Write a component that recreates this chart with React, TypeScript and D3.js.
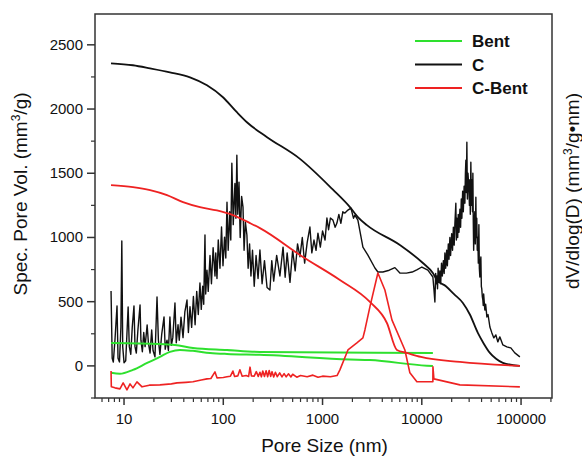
import React from 'react';
import * as d3 from 'd3';

// pore size (nm), value
const cDist: [number, number][] = [
  [7.4, 583], [7.6, 60], [7.8, 30], [8.1, 200], [8.5, 467], [8.7, 60], [9.0, 31], [9.3, 300], [9.5, 972], [9.7, 150],
  [10.0, 25], [10.4, 40], [10.7, 250], [11.0, 459], [11.3, 150], [11.7, 90], [12.1, 300], [12.6, 467], [12.9, 150],
  [13.3, 100], [13.8, 280], [14.5, 474], [14.8, 200], [15.3, 110], [15.8, 260], [16.3, 150], [17.1, 319], [17.6, 180],
  [18.3, 100], [19.0, 280], [19.6, 120], [20.5, 70], [21.5, 537], [22.2, 200], [23.0, 90], [24.0, 250], [25.3, 381],
  [26.0, 130], [27.1, 200], [28.0, 120], [29.0, 381], [30.0, 160], [31.0, 220], [32.6, 490], [33.6, 180], [35.0, 320],
  [36.0, 200], [37.5, 380], [39.3, 220], [41.0, 420], [43.1, 513], [44.5, 260], [46.2, 460], [48.0, 300], [50.0, 540],
  [52.0, 320], [54.0, 580], [56.0, 400], [58.2, 645], [60.0, 440], [62.0, 620], [63.5, 480], [65.4, 1019], [66.5, 560],
  [68.5, 746], [70.5, 580], [73.5, 860], [76.0, 640], [79.0, 920], [82.5, 700], [84.0, 879], [86.4, 680], [89.0, 980],
  [92.6, 760], [96.0, 1081], [99.3, 780], [103, 1003], [106, 840], [109, 1275], [112, 900], [116, 1200], [119, 980],
  [122, 1578], [126, 1100], [131, 1420], [134, 1150], [137, 1641], [140, 1180], [144, 1431], [148, 1000], [153, 1320],
  [158, 1236], [162, 900], [167, 1120], [173, 1019], [178, 760], [184, 950], [190, 700], [197, 900], [205, 620],
  [214, 860], [224, 680], [234, 902], [246, 640], [260, 820], [276, 610], [295, 591], [308, 820], [322, 660],
  [345, 860], [372, 700], [400, 925], [420, 690], [440, 880], [470, 650], [500, 902], [530, 740], [560, 950],
  [592, 850], [625, 1000], [660, 800], [700, 960], [746, 1081], [780, 880], [820, 980], [860, 900], [899, 1034],
  [950, 925], [1000, 1050], [1060, 980], [1107, 1151], [1150, 1060], [1200, 1151], [1273, 1135], [1340, 1080],
  [1396, 1112], [1460, 1180], [1530, 1110], [1600, 1200], [1681, 1190], [1803, 1213], [1932, 1229], [2050, 1150],
  [2118, 1174], [2270, 1135], [2551, 925], [2864, 863], [3371, 762], [3611, 731], [4055, 731], [4700, 745],
  [5359, 765], [6015, 723], [7000, 722], [8000, 731], [9000, 750], [10020, 770], [11510, 746], [12930, 692],
  [13240, 600], [13550, 498], [13800, 720], [14000, 640], [14190, 700], [14400, 600], [14600, 760], [14900, 650],
  [15200, 740], [15500, 640], [15800, 800], [16100, 700], [16500, 820], [16800, 720], [17090, 879], [17400, 760],
  [17800, 900], [18100, 780], [18500, 950], [18800, 830], [19180, 1000], [19500, 860], [20000, 1030], [20400, 900],
  [20800, 1080], [21200, 940], [21530, 1100], [22030, 1267], [22300, 980], [22600, 1150], [23000, 1000],
  [23300, 1180], [23700, 1040], [24200, 1220], [24600, 1080], [25000, 1300], [25340, 1150], [25800, 1360],
  [26200, 1200], [26700, 1400], [27170, 1267], [27500, 1500], [27800, 1602], [28100, 1350], [28450, 1742],
  [28800, 1300], [29200, 1500], [29790, 1392], [30200, 1250], [30500, 1450], [30800, 1180], [31200, 1586],
  [31600, 1250], [32000, 1450], [32400, 1200], [32700, 1500], [33000, 1135], [33300, 900], [33700, 1100],
  [34200, 1200], [34600, 950], [35050, 1314], [35400, 1000], [35800, 1150], [36200, 900], [36700, 1000],
  [37100, 800], [37600, 1100], [38000, 760], [38450, 692], [38900, 800], [39370, 848], [39800, 620], [40200, 600],
  [40700, 540], [41220, 513], [41600, 470], [42000, 560], [43170, 435], [44000, 480], [45260, 381], [46500, 400],
  [48530, 303], [50820, 257], [53210, 218], [55720, 241], [58340, 187], [61090, 226], [65600, 163], [71900, 148],
  [78900, 140], [86500, 101], [97300, 70],
];

const cCum: [number, number][] = [
  [7.4, 2356], [12.3, 2341], [18.3, 2317], [29, 2286], [46.2, 2247], [68.5, 2185], [99.3, 2092], [137, 1975],
  [173, 1897], [276, 1781], [592, 1612], [1273, 1372], [1888, 1236], [2270, 1159], [2798, 1096], [6015, 941],
  [10255, 801], [12930, 723], [14190, 669], [17500, 620], [21000, 560], [25940, 490], [30500, 400], [36700, 257],
  [42000, 175], [48530, 101], [56000, 55], [65600, 23], [97300, 0],
];

const cbDist: [number, number][] = [
  [7.4, -39], [7.45, -163], [8.1, -171], [9.1, -179], [9.8, -132], [10.7, -187], [11.5, -140], [12.3, -171],
  [13.5, -124], [15.2, -163], [18, -150], [23, -148], [30, -140], [34.2, -132], [42, -128], [49.5, -124], [60, -110],
  [68.5, -101], [75, -98], [82.5, -47], [86.4, -93], [100, -90], [109, -85], [118, -80], [125, -40], [130, -82],
  [140, -78], [147, -30], [155, -80], [170, -75], [180, -82], [186, -10], [192, -78], [205, -80], [215, -45],
  [225, -82], [234, -50], [242, -85], [250, -40], [260, -82], [270, -38], [280, -84], [290, -36], [300, -82],
  [310, -45], [322, -86], [335, -50], [350, -84], [370, -55], [390, -86], [410, -60], [430, -85], [455, -62],
  [480, -86], [500, -65], [550, -88], [600, -75], [700, -85], [800, -72], [900, -88], [1000, -80], [1200, -85],
  [1400, -75], [1496, -31], [1803, 124], [2218, 179], [2551, 218], [2672, 280], [3000, 459], [3611, 723],
  [4249, 591], [5000, 358], [6755, 124], [7585, -54], [8922, -124], [12930, -124], [12950, -8], [13240, -101],
  [24200, -148], [97300, -163],
];

const cbCum: [number, number][] = [
  [7.4, 1407], [12.3, 1392], [18.3, 1369], [27.1, 1330], [39.3, 1275], [58.2, 1236], [86.4, 1210], [125, 1174],
  [186, 1112], [234, 1073], [635, 848], [1496, 669], [3000, 498], [4452, 334], [5614, 124], [7078, 101],
  [9800, 70], [24200, 31], [97300, 0],
];

const bentCum: [number, number][] = [
  [7.4, 179], [23, 171], [32.6, 163], [49.5, 140], [109, 124], [234, 109], [12930, 101],
];

const bentDist: [number, number][] = [
  [7.4, -54], [9.1, -62], [12.3, -31], [17.1, 23], [23, 70], [29, 109], [36.6, 124], [49.5, 117], [73.5, 101],
  [109, 93], [234, 86], [1888, 50], [3000, 45], [11250, 2], [12930, 0],
];

const seriesNames = ['Bent', 'C', 'C-Bent'];
const seriesColors = ['#2ee02e', '#111111', '#ee2222'];
const xTickValues = [10, 100, 1000, 10000, 100000];
const yTickValues = [0, 500, 1000, 1500, 2000, 2500];

const W = 582;
const H = 457;
const M = { left: 95, right: 552, top: 14, bottom: 398 };
const font = '"Liberation Sans", Arial, sans-serif';

export default function App() {
  const x = d3.scaleLog().domain([5.1, 205000]).range([M.left, M.right]);
  const y = d3.scaleLinear().domain([-250, 2740]).range([M.bottom, M.top]);

  const noisy = d3.line<[number, number]>().x(d => x(d[0])).y(d => y(d[1]));
  const smooth = d3.line<[number, number]>().x(d => x(d[0])).y(d => y(d[1])).curve(d3.curveMonotoneX);

  // log minor ticks
  const minorX: number[] = [];
  for (let e = 0; e <= 5; e++) {
    for (let k = 2; k <= 9; k++) {
      const v = k * Math.pow(10, e);
      if (v >= 5.1 && v <= 205000) minorX.push(v);
    }
  }
  const minorY = d3.range(-250, 2750, 500);

  const axisColor = '#333';

  return (
    <svg width={W} height={H} style={{ position: 'absolute', left: 0, top: 0, background: '#fff' }}>
      {/* curves */}
      <path d={noisy(cDist) || ''} fill="none" stroke={seriesColors[1]} strokeWidth={1.4} strokeLinejoin="round" />
      <path d={smooth(cCum) || ''} fill="none" stroke={seriesColors[1]} strokeWidth={1.8} />
      <path d={smooth(bentCum) || ''} fill="none" stroke={seriesColors[0]} strokeWidth={2} />
      <path d={smooth(bentDist) || ''} fill="none" stroke={seriesColors[0]} strokeWidth={2} />
      <path d={smooth(cbCum) || ''} fill="none" stroke={seriesColors[2]} strokeWidth={1.8} />
      <path d={noisy(cbDist) || ''} fill="none" stroke={seriesColors[2]} strokeWidth={1.6} strokeLinejoin="round" />

      {/* frame */}
      <rect x={M.left} y={M.top} width={M.right - M.left} height={M.bottom - M.top}
        fill="none" stroke={axisColor} strokeWidth={1.5} />

      {/* y ticks */}
      {yTickValues.map(v => (
        <g key={'y' + v}>
          <line x1={M.left - 8} x2={M.left} y1={y(v)} y2={y(v)} stroke={axisColor} strokeWidth={1.5} />
          <text x={M.left - 12} y={y(v) + 5} textAnchor="end" fontSize={15} fontFamily={font} fill="#111">{v}</text>
        </g>
      ))}
      {minorY.map(v => (
        <line key={'my' + v} x1={M.left - 4} x2={M.left} y1={y(v)} y2={y(v)} stroke={axisColor} strokeWidth={1.2} />
      ))}

      {/* x ticks */}
      {xTickValues.map(v => (
        <g key={'x' + v}>
          <line x1={x(v)} x2={x(v)} y1={M.bottom} y2={M.bottom + 7} stroke={axisColor} strokeWidth={1.5} />
          <text x={x(v)} y={M.bottom + 26} textAnchor="middle" fontSize={15} fontFamily={font} fill="#111">{v}</text>
        </g>
      ))}
      {minorX.map(v => (
        <line key={'mx' + v} x1={x(v)} x2={x(v)} y1={M.bottom} y2={M.bottom + 4} stroke={axisColor} strokeWidth={1.2} />
      ))}

      {/* axis titles */}
      <text x={(M.left + M.right) / 2 + 1} y={452} textAnchor="middle" fontSize={19} fontFamily={font} fill="#111">
        Pore Size (nm)
      </text>
      <text transform="translate(27,194) rotate(-90)" textAnchor="middle" fontSize={19} fontFamily={font} fill="#111">
        Spec. Pore Vol. (mm<tspan dy={-7} fontSize={12}>3</tspan><tspan dy={7}>/g)</tspan>
      </text>
      <text transform="translate(579,191) rotate(-90)" textAnchor="middle" fontSize={19} fontFamily={font} fill="#111">
        dV/dlog(D) (mm<tspan dy={-7} fontSize={12}>3</tspan><tspan dy={7}>/g•nm)</tspan>
      </text>

      {/* legend */}
      {seriesNames.map((name, i) => (
        <g key={name} transform={`translate(0,${41 + i * 23.5})`}>
          <line x1={415} x2={462} y1={0} y2={0} stroke={seriesColors[i]} strokeWidth={2} />
          <text x={472} y={6} fontSize={17} fontWeight="bold" fontFamily={font} fill="#111">{name}</text>
        </g>
      ))}
    </svg>
  );
}
